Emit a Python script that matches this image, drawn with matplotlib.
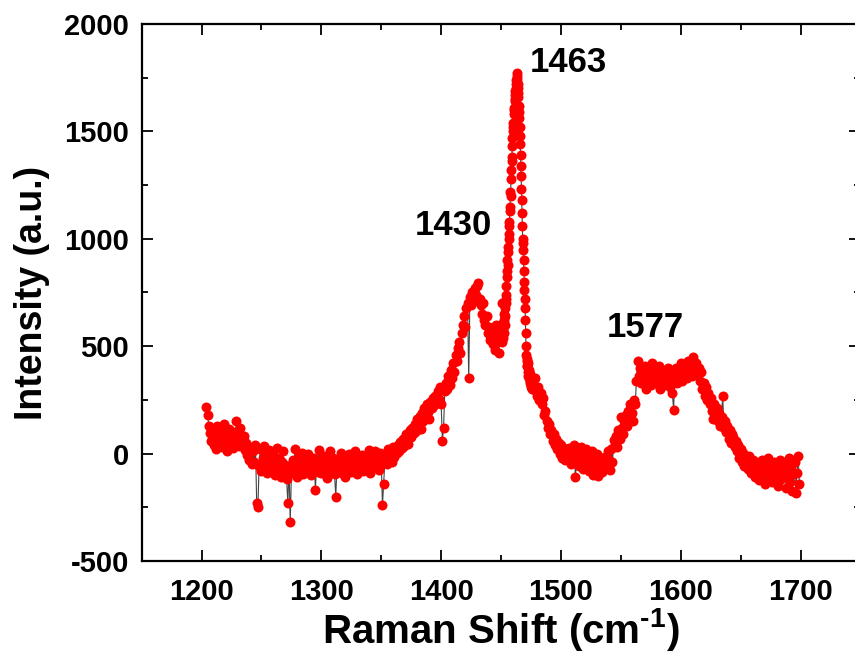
import matplotlib
matplotlib.use("Agg")
import matplotlib.pyplot as plt
import numpy as np
from matplotlib.ticker import MultipleLocator

plt.rcParams["font.family"] = ["Liberation Sans", "DejaVu Sans"]
plt.rcParams["font.weight"] = "bold"
plt.rcParams["axes.unicode_minus"] = False
plt.rcParams["mathtext.fontset"] = "custom"
plt.rcParams["mathtext.rm"] = "Liberation Sans:bold"
plt.rcParams["mathtext.bf"] = "Liberation Sans:bold"
plt.rcParams["mathtext.default"] = "bf"

# Raman shift grid: 1 cm-1 steps, finer sampling across the 1463 band
shift_low = np.arange(1204, 1450, 1.0)
shift_peak = np.arange(1450, 1476, 0.25)
shift_high = np.arange(1476, 1700, 1.0)

intensity_low = [
    215, 180, 130, 95, 60, 110, 40, 75, 20, 130,
    85, 50, 110, 30, 70, 140, 95, 10, 60, 115,
    45, 80, 25, 100, 65, 150, 90, 35, 120, 70,
    40, 80, 15, 50, -5, 30, -30, 20, -50, 10,
    -40, 40, -230, -250, -60, 20, -80, -20, 35, -55,
    -10, -90, 15, -45, -75, 0, -30, -100, -60, 25,
    -70, -20, -110, -40, 10, -85, -55, -120, -230, -60,
    -320, -90, -30, -70, 20, -50, -110, -15, -75, -40,
    5, -95, -60, -25, -70, 0, -45, -100, -30, -65,
    -20, -170, -50, -85, 15, -40, -90, -60, -10, -75,
    -30, -115, -55, 10, -80, -45, -20, -95, -200, -60,
    -35, -70, 5, -90, -50, -25, -110, -40, -65, 0,
    -55, -85, -30, -60, 10, -45, -95, -20, -70, -40,
    -5, -80, -50, -15, -65, -35, 15, -90, -40, -60,
    -20, 10, -55, -30, -75, 5, -45, -240, -140, -35,
    -10, -50, 20, -25, 0, -40, 30, -15, 25, 5,
    40, 10, 55, 25, 70, 35, 60, 90, 45, 80,
    110, 75, 120, 95, 140, 105, 160, 130, 175, 115,
    190, 150, 210, 170, 230, 195, 160, 240, 210, 260,
    225, 270, 240, 290, 255, 310, 230, 60, 120, 290,
    330, 300, 360, 320, 390, 350, 420, 380, 460, 430,
    490, 520, 470, 560, 600, 640, 590, 680, 700, 350,
    730, 690, 750, 710, 770, 740, 780, 795, 720, 690,
    650, 700, 620, 600, 640, 560, 590, 530, 570, 510,
    550, 480, 600, 520, 470, 560,
]

intensity_peak = [
    540, 600, 700, 580, 520, 560, 610, 540,
    580, 620, 560, 650, 600, 680, 640, 720,
    700, 780, 740, 850, 820, 900, 880, 960,
    940, 1020, 1000, 1080, 1060, 1150, 1130, 1220,
    1200, 1280, 1320, 1380, 1360, 1430, 1470, 1500,
    1540, 1520, 1580, 1610, 1600, 1640, 1670, 1650,
    1690, 1720, 1700, 1740, 1760, 1770, 1745, 1720,
    1700, 1660, 1680, 1620, 1590, 1560, 1520, 1480,
    1440, 1390, 1340, 1290, 1230, 1180, 1120, 1060,
    1000, 980, 950, 900, 850, 800, 760, 720,
    680, 620, 560, 500, 460, 430, 410, 440,
    410, 380, 420, 360, 390, 350, 380, 340,
    370, 330, 360, 320, 350, 310, 340, 300,
]

intensity_high = [
    330, 300, 350, 290, 270, 310, 250, 280, 230, 260,
    180, 200, 150, 120, 140, 90, 110, 60, 90, 40,
    70, 20, 50, 0, 40, -20, 25, -30, 15, -10,
    -30, 25, -50, 15, -10, 40, -110, -40, 5, -60,
    -20, 30, -70, -5, -45, 20, -30, -80, -10, -55,
    10, -100, -35, -65, 0, -105, -50, -20, -85, -40,
    -70, -15, -50, 10, -30, -75, 20, -40, 65, 40,
    80, 30, 110, 70, 170, 120, 90, 150, 180, 130,
    200, 160, 230, 190, 150, 250, 230, 340, 430, 360,
    400, 330, 380, 350, 410, 300, 370, 340, 390, 320,
    420, 360, 330, 400, 370, 340, 410, 300, 380, 350,
    320, 390, 360, 400, 340, 310, 370, 280, 205, 350,
    400, 330, 380, 360, 420, 340, 390, 370, 410, 350,
    430, 380, 400, 360, 450, 410, 390, 420, 370, 400,
    340, 380, 300, 330, 270, 310, 250, 280, 230, 260,
    200, 160, 230, 180, 210, 150, 190, 130, 170, 270,
    120, 150, 100, 130, 70, 110, 50, 90, 75, 30,
    60, 10, 40, -20, 20, -40, 5, -60, -20, -30,
    -70, -10, -50, -90, -30, -75, -110, -40, -80, -125,
    -60, -95, -30, -70, -140, -50, -90, -20, -110, -60,
    -130, -70, -40, -100, -55, -150, -85, -30, -120, -65,
    -100, -45, -160, -80, -20, -130, -60, -175, -95, -40,
    -185, -90, -10, -140,
]

shift = np.concatenate([shift_low, shift_peak, shift_high])
intensity = np.array(intensity_low + intensity_peak + intensity_high, dtype=float)

peak_labels = ["1430", "1463", "1577"]
label_pos = [(1410, 1064), (1474, 1823), (1570, 585)]
label_ha = ["center", "left", "center"]

fig = plt.figure(figsize=(8.55, 6.57), dpi=100)
ax = fig.add_axes([0.1657, 0.1461, 0.8407, 0.8174])

ax.plot(shift, intensity, color="#444444", lw=0.8, zorder=1)
ax.plot(shift, intensity, ls="none", marker="o", ms=7.2, mfc="#ff0000",
        mec="#ff0000", mew=0, zorder=2)

for txt, (x, y), ha in zip(peak_labels, label_pos, label_ha):
    ax.text(x, y, txt, fontsize=25, fontweight="bold", ha=ha, va="center")

ax.set_xlim(1150, 1750)
ax.set_ylim(-500, 2000)
ax.xaxis.set_major_locator(MultipleLocator(100))
ax.xaxis.set_minor_locator(MultipleLocator(50))
ax.yaxis.set_major_locator(MultipleLocator(500))
ax.yaxis.set_minor_locator(MultipleLocator(250))

ax.tick_params(which="both", direction="in", top=True, right=True, width=1.3)
ax.tick_params(which="major", length=8, labelsize=21)
ax.tick_params(which="minor", length=4)
ax.tick_params(axis="x", which="major", pad=12)
ax.tick_params(axis="y", which="major", pad=9)
for lab in ax.get_xticklabels() + ax.get_yticklabels():
    lab.set_fontweight("bold")
for sp in ax.spines.values():
    sp.set_linewidth(1.6)

# hyphen in the exponent, as typed on the original axis title
ax.set_xlabel(r"Raman Shift (cm$^{\text{-1}}$)", fontsize=29, fontweight="bold",
              labelpad=0)
ax.set_ylabel("Intensity (a.u.)", fontsize=27, fontweight="bold", labelpad=10)

fig.savefig("out.png", dpi=100)
